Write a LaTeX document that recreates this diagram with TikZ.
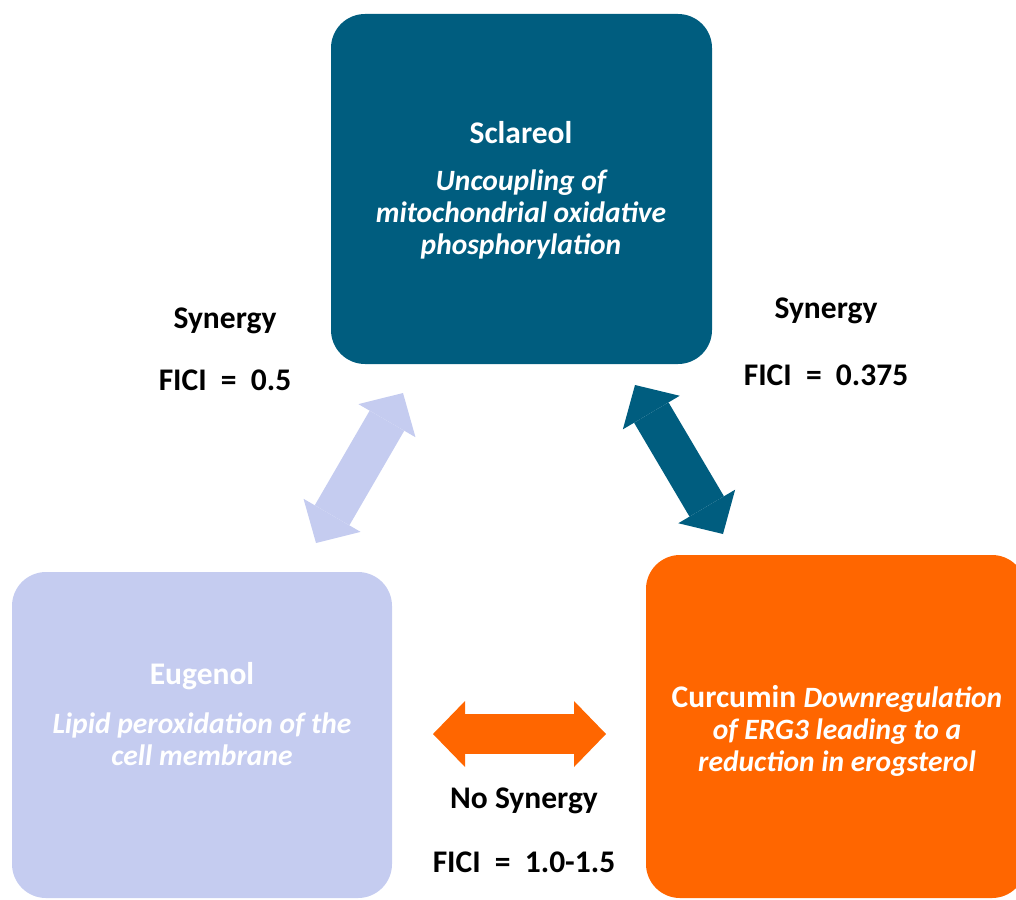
\documentclass[tikz,border=0pt]{standalone}
\usepackage{fontspec}
\setmainfont{Carlito}
\usetikzlibrary{arrows.meta}
\definecolor{sclcol}{RGB}{0,93,127}
\definecolor{eugcol}{RGB}{197,204,240}
\definecolor{curcol}{RGB}{255,102,0}
\newcommand\descit[1]{{\fontsize{29.5}{32}\selectfont\itshape #1}}
\begin{document}
\begin{tikzpicture}[x=1pt,y=-1pt,
  box/.style={rectangle, rounded corners=34pt, draw=none, inner sep=0pt},
  boxtext/.style={text=white, align=center, font=\fontsize{31.5}{32}\selectfont\bfseries, inner sep=0pt},
  lbl/.style={text=black, align=center, font=\fontsize{31.5}{32}\selectfont\bfseries, inner sep=0pt},
  dblarrow/.style={line width=40pt, line cap=butt,
    {Triangle[width=66pt,length=32pt,line width=0pt]}-{Triangle[width=66pt,length=32pt,line width=0pt]}}
]
\useasboundingbox (0,0) rectangle (1016,899);
\clip (0,0) rectangle (1016,899);
% boxes
\node[box, fill=sclcol, minimum width=381pt, minimum height=350pt] (scl) at (521.5,189) {};
\node[box, fill=eugcol, minimum width=380pt, minimum height=326pt] (eug) at (202,735) {};
\node[box, fill=curcol, minimum width=380pt, minimum height=343pt] (cur) at (836,726.5) {};
% box texts
\node[boxtext] (scltitle) at (521,133) {Sclareol};
\node[boxtext] (scldesc) at (521,214) {\descit{Uncoupling of}\\ \descit{mitochondrial oxidative}\\ \descit{phosphorylation}};
\node[boxtext] (eugtitle) at (202,676) {Eugenol};
\node[boxtext] (eugdesc) at (202,739) {\descit{Lipid peroxidation of the}\\ \descit{cell membrane}};
\node[boxtext] (curdesc) at (837,731) {Curcumin \descit{Downregulation}\\ \descit{of ERG3 leading to a}\\ \descit{reduction in erogsterol}};
% labels
\node[lbl] (syn1) at (225,321) {Synergy};
\node[lbl] (fici1) at (225,380) {FICI\ \ =\ \ 0.5};
\node[lbl] (syn2) at (826,311) {Synergy};
\node[lbl] (fici2) at (826,375) {FICI\ \ =\ \ 0.375};
\node[lbl] (syn3) at (524,801) {No Synergy};
\node[lbl] (fici3) at (524,862) {FICI\ \ =\ \ 1.0-1.5};
% arrows
\coordinate (a1s) at (316,543);
\coordinate (a1e) at (403,393);
\coordinate (a2s) at (635,385);
\coordinate (a2e) at (723,534);
\coordinate (a3s) at (433,734);
\coordinate (a3e) at (606,734);
\draw[dblarrow, eugcol] (a1s) -- (a1e);
\draw[dblarrow, sclcol] (a2s) -- (a2e);
\draw[dblarrow, curcol] (a3s) -- (a3e);
\end{tikzpicture}
\end{document}
